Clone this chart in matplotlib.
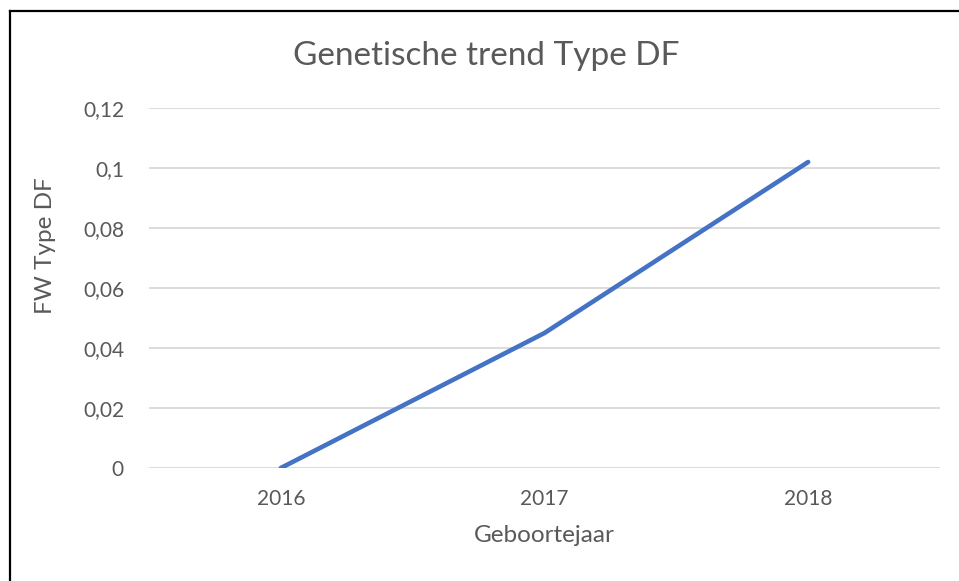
import matplotlib.pyplot as plt
from matplotlib.lines import Line2D
from matplotlib.ticker import FuncFormatter

years = ['2016', '2017', '2018']
fw_type_df = [0.0, 0.045, 0.102]
yticks = [0, 0.02, 0.04, 0.06, 0.08, 0.1, 0.12]

plt.rcParams['font.family'] = ['Lato', 'DejaVu Sans']
grey = '#595959'

fig = plt.figure(figsize=(9.59, 5.81), dpi=100)
ax = fig.add_axes([149 / 959, 1 - 468 / 581, 791 / 959, 360 / 581])

x = range(len(years))
ax.plot(x, fw_type_df, color='#4472C4', linewidth=3.3, solid_capstyle='round')

ax.set_xlim(-0.5, len(years) - 0.5)
ax.set_ylim(0, 0.12)
ax.set_xticks(list(x))
ax.set_xticklabels(years)
ax.set_yticks(yticks)
ax.yaxis.set_major_formatter(FuncFormatter(lambda v, p: ('%g' % round(v, 2)).replace('.', ',')))
ax.grid(axis='y', color='#D9D9D9', linewidth=1.3)
ax.set_axisbelow(True)
for s in ax.spines.values():
    s.set_visible(False)
ax.tick_params(length=0, labelsize=15, labelcolor=grey, pad=15)
ax.tick_params(axis='y', pad=18)

ax.set_xlabel('Geboortejaar', fontsize=17.5, color=grey, labelpad=12)
fig.text(45 / 959, 1 - 246 / 581, 'FW Type DF', fontsize=17.5, color=grey,
         rotation=90, ha='center', va='center')
fig.text(486 / 959, 1 - 56 / 581, 'Genetische trend Type DF', fontsize=24,
         color=grey, ha='center', va='center')

# chart frame (left and top edges visible in the crop)
fig.add_artist(Line2D([9.5 / 959, 9.5 / 959], [0, 1 - 11 / 581], color='black', linewidth=1.6))
fig.add_artist(Line2D([9.5 / 959, 1], [1 - 11 / 581, 1 - 11 / 581], color='black', linewidth=1.6))

plt.savefig('out.png', dpi=100)
